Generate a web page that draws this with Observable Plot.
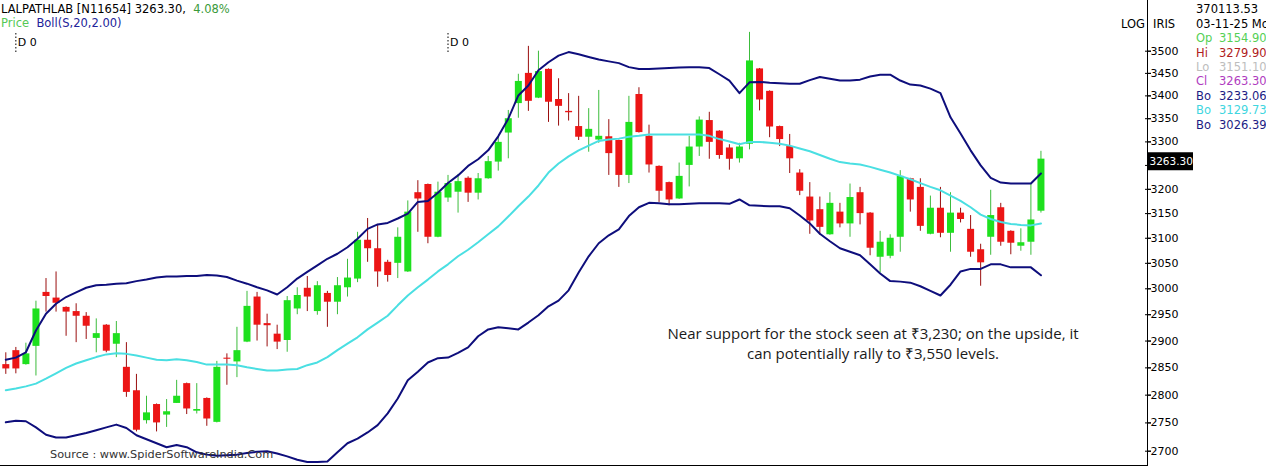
<!DOCTYPE html>
<html><head><meta charset="utf-8">
<script src="https://cdn.jsdelivr.net/npm/d3@7"></script>
<script src="https://cdn.jsdelivr.net/npm/@observablehq/plot@0.6"></script>
<style>
html,body{margin:0;padding:0;background:#fff;}
#wrap{position:relative;width:1266px;height:469px;overflow:hidden;font-family:"DejaVu Sans",Verdana,sans-serif;}
.t{position:absolute;white-space:pre;line-height:14px;}
</style></head>
<body><div id="wrap"></div>
<script>
const open = [2856,2882,2856,2890,2993,2982,2964,2956,2947,2905,
2930,2894,2851,2808,2754,2783,2764,2785,2821,2771,
2794,2751,2868,2861,2898,2984,2933,2913,2901,2961,
3001,2956,2991,2974,3002,3019,3096,3079,3052,3050,
3033,3193,3210,3102,3182,3194,3223,3192,3222,3257,
3319,3383,3450,3395,3459,3392,3366,3333,3310,3304,
3311,3303,3229,3403,3312,3248,3214,3180,3250,3289,
3346,3323,3287,3264,3295,3460,3410,3333,3290,3234,
3184,3158,3107,3153,3129,3193,3151,3062,3064,3102,
3222,3204,3108,3161,3110,3151,3118,3077,3102,3162,
3114,3084,3092,3154.90];
const high = [2878,2888,2896,2976,3020,3033,2965,2971,2954,2942,
2931,2937,2897,2838,2798,2784,2792,2827,2822,2821,
2795,2862,2876,2926,2995,2993,2951,2930,2985,3002,
3024,3014,2995,3022,3058,3112,3140,3128,3056,3121,
3176,3218,3211,3215,3229,3231,3226,3233,3269,3310,
3368,3448,3511,3500,3460,3438,3405,3399,3372,3412,
3348,3304,3399,3418,3336,3249,3215,3255,3312,3354,
3364,3324,3294,3297,3543,3461,3411,3334,3316,3241,
3214,3184,3193,3171,3211,3204,3152,3114,3107,3239,
3223,3222,3186,3204,3193,3161,3146,3088,3198,3171,
3115,3119,3212,3279.90];
const low = [2838,2839,2855,2835,2955,2955,2909,2897,2903,2878,
2878,2869,2796,2734,2748,2734,2742,2785,2765,2766,
2744,2750,2818,2832,2897,2900,2889,2884,2879,2950,
2956,2949,2926,2950,2984,3012,3052,3003,3013,3020,
3032,3112,3089,3101,3173,3151,3173,3178,3221,3238,
3264,3351,3366,3394,3342,3334,3345,3303,3278,3297,
3229,3204,3212,3319,3234,3173,3166,3179,3205,3269,
3263,3263,3240,3255,3283,3367,3309,3290,3233,3187,
3108,3106,3106,3121,3102,3127,3065,3031,3059,3072,
3153,3114,3107,3101,3072,3131,3062,3005,3066,3084,
3067,3074,3066,3151.10];
const close = [2848,2848,2876,2961,2985,2972,2955,2947,2928,2914,
2881,2914,2805,2737,2768,2750,2770,2798,2775,2774,
2757,2851,2866,2882,2966,2930,2929,2898,2977,2987,
2984,3006,2974,3006,3021,3096,3079,3033,3026,3102,
3153,3180,3102,3194,3212,3216,3192,3222,3258,3299,
3350,3432,3388,3454,3386,3377,3363,3310,3327,3312,
3275,3229,3342,3320,3251,3196,3178,3227,3289,3347,
3299,3271,3263,3289,3478,3391,3332,3305,3264,3196,
3135,3122,3171,3129,3183,3150,3080,3092,3100,3227,
3178,3124,3161,3110,3151,3138,3072,3051,3146,3092,
3090,3091,3137,3263.30];
const bbUpper = [2865,2869,2879,2920,2952,2971,2984,2993,3002,3007,
3008,3010,3011,3015,3018,3022,3024,3024,3025,3025,
3027,3026,3023,3016,3010,3003,2997,2989,3003,3020,
3033,3046,3059,3069,3082,3099,3119,3128,3131,3140,
3150,3174,3176,3193,3213,3229,3249,3263,3282,3312,
3350,3401,3423,3457,3475,3490,3498,3493,3487,3481,
3477,3473,3464,3460,3460,3461,3462,3463,3464,3464,
3462,3448,3434,3406,3430,3431,3429,3428,3427,3427,
3435,3442,3438,3434,3434,3436,3443,3447,3447,3434,
3425,3423,3416,3406,3353,3318,3282,3250,3224,3214,
3212,3212,3212,3233.06];
const bbMid = [2809,2812,2816,2821,2830,2840,2850,2858,2864,2870,
2875,2877,2876,2873,2869,2865,2864,2866,2864,2861,
2856,2856,2856,2855,2851,2848,2845,2845,2847,2848,
2855,2860,2870,2883,2895,2907,2922,2935,2948,2968,
2987,3003,3018,3034,3048,3064,3077,3092,3108,3124,
3144,3165,3185,3208,3235,3254,3269,3282,3292,3302,
3305,3307,3311,3313,3316,3316,3316,3316,3316,3316,
3313,3306,3301,3295,3300,3300,3298,3296,3292,3286,
3280,3272,3264,3257,3254,3252,3247,3241,3235,3228,
3221,3213,3205,3198,3187,3176,3163,3148,3139,3133,
3129,3127,3126,3129.73];
const bbLower = [2751,2754,2753,2742,2729,2724,2724,2728,2732,2737,
2742,2747,2741,2728,2721,2714,2707,2711,2707,2698,
2694,2692,2693,2694,2697,2699,2700,2696,2691,2685,
2681,2681,2682,2698,2714,2722,2733,2746,2767,2794,
2827,2843,2860,2868,2869,2878,2888,2909,2922,2926,
2924,2922,2935,2949,2966,2977,2997,3032,3064,3090,
3106,3118,3145,3163,3172,3171,3169,3169,3170,3171,
3171,3171,3170,3179,3167,3166,3165,3165,3161,3146,
3130,3109,3094,3080,3073,3066,3048,3030,3015,3014,
3012,3005,2996,2987,3008,3034,3039,3039,3048,3048,
3042,3042,3042,3026.39];
const yTicks = [2700,2750,2800,2850,2900,2950,3000,3050,3100,3150,3200,3250,3300,3350,3400,3450,3500];
const hiddenTickLabels = [3250];
const dMarkers = [1, 44];
const lastPrice = 3263.30;
const legendRows = [
  {k:"", v:"370113.53", c:"#000"},
  {k:"", v:"03-11-25 Mo", c:"#000"},
  {k:"Op", v:"3154.90", c:"#55d055"},
  {k:"Hi", v:"3279.90", c:"#b02020"},
  {k:"Lo", v:"3151.10", c:"#bdbdbd"},
  {k:"Cl", v:"3263.30", c:"#b03cc0"},
  {k:"Bo", v:"3233.06", c:"#1c1c84"},
  {k:"Bo", v:"3129.73", c:"#3fd6e0"},
  {k:"Bo", v:"3026.39", c:"#1c1c84"}
];

const idx = open.map((_, i) => i);
const up = i => close[i] >= open[i];
const bodyGreen = "#1ee01e", bodyRed = "#ec1515", wickGreen = "#3cbc3c", wickRed = "#9a0e0e";

const chart = Plot.plot({
  width: 1266, height: 469,
  marginTop: 0, marginBottom: 4, marginLeft: 0, marginRight: 119,
  x: {type: "linear", domain: [0, 103], range: [5.3, 1040.45], axis: null},
  y: {type: "log", domain: [2700, 3500], range: [450.7, 50.7], axis: null},
  color: {type: "identity"},
  style: {background: "white", fontFamily: "'DejaVu Sans', Verdana, sans-serif", fontSize: "11px"},
  marks: [
    Plot.ruleX(dMarkers, {x: d => d, insetTop: 33, insetBottom: 413, stroke: "#000", strokeDasharray: "1.5,2"}),
    Plot.text(dMarkers, {x: d => d, frameAnchor: "top", lineAnchor: "middle", dy: 42, dx: 2, text: () => "D 0", textAnchor: "start", fill: "#000", fontSize: 11}),
    Plot.ruleX(idx, {x: i => i, y1: i => low[i], y2: i => high[i], stroke: i => up(i) ? wickGreen : wickRed, strokeWidth: 1}),
    Plot.ruleX(idx, {x: i => i, y1: i => open[i], y2: i => close[i], stroke: i => up(i) ? bodyGreen : bodyRed, strokeWidth: 7}),
    Plot.line(idx, {x: i => i, y: i => bbMid[i], stroke: "#4adfe2", strokeWidth: 2}),
    Plot.line(idx, {x: i => i, y: i => bbUpper[i], stroke: "#0e0e7c", strokeWidth: 2}),
    Plot.line(idx, {x: i => i, y: i => bbLower[i], stroke: "#0e0e7c", strokeWidth: 2}),
    Plot.frame({anchor: "bottom", stroke: "#000"}),
    Plot.frame({anchor: "right", stroke: "#000"}),
    Plot.axisY(yTicks, {anchor: "right", tickSize: 6, dx: -3, tickFormat: () => "", fill: "none"}),
    Plot.axisY(yTicks, {anchor: "right", tickSize: 3, tickPadding: 0, tickFormat: d => hiddenTickLabels.includes(d) ? "" : String(d), fill: "#000", fontSize: 11}),
    Plot.tickY([lastPrice], {y: d => d, insetLeft: 1148, insetRight: -46, stroke: "#000", strokeWidth: 18, dy: 2}),
    Plot.text([lastPrice], {y: d => d, frameAnchor: "right", dx: 2, dy: 2, textAnchor: "start", fill: "#fff", fontSize: 10.5, text: d => d.toFixed(2)})
  ]
});

const wrap = document.getElementById("wrap");
wrap.appendChild(chart);
function addText(html, left, cy, size, color, extra) {
  const d = document.createElement("div");
  d.className = "t";
  d.style.left = left + "px";
  d.style.top = (cy - 7) + "px";
  d.style.fontSize = size + "px";
  d.style.color = color;
  if (extra) Object.assign(d.style, extra);
  d.innerHTML = html;
  wrap.appendChild(d);
  return d;
}
addText('LALPATHLAB [N11654] 3263.30,  <span style="color:#3a9a3a">4.08%</span>', 1, 9, 11.5, "#000");
addText('<span style="color:#55c855">Price</span>  <span style="color:#22229a">Boll(S,20,2.00)</span>', 1, 23, 11.5, "#000");
addText("LOG", 1121, 24, 11.5, "#000");
addText("IRIS", 1153, 24, 11.5, "#000");
legendRows.forEach((r, k) => {
  const cy = 9.3 + k * 14.4;
  if (r.k) {
    addText(r.k, 1196, cy, 11.5, r.c);
    addText(r.v, 1219, cy, 11.5, r.c);
  } else {
    addText(r.v, 1196, cy, 11.5, r.c);
  }
});
addText("Near support for the stock seen at ₹3,230; on the upside, it<br>can potentially rally to ₹3,550 levels.", 653, 334, 15, "#1a1a1a", {textAlign: "center", width: "440px", lineHeight: "20px", top: "323px", fontFamily: "'Open Sans', sans-serif"});
addText("Source : www.SpiderSoftwareIndia.Com", 50, 455, 11.3, "#333");
</script></body></html>
